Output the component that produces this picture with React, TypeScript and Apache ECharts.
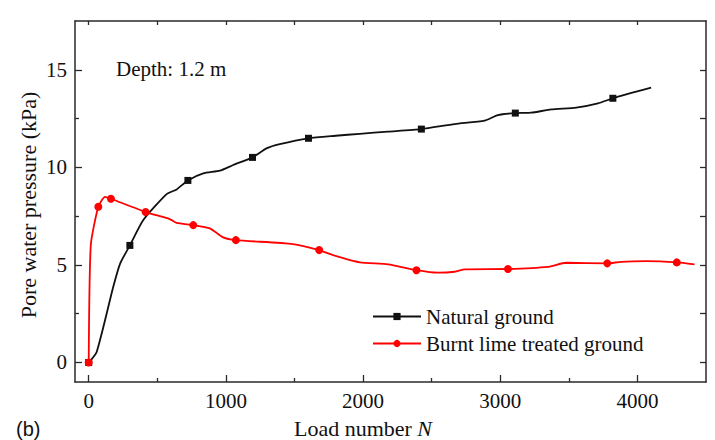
import React, { useEffect, useRef } from "react";
import * as echarts from "echarts";

// Natural ground
const naturalN = [0, 58, 179, 229, 300, 398, 568, 641, 723, 835, 956, 1053, 1194, 1296, 1393, 1602, 1800, 1976, 2182, 2425, 2668, 2886, 2983, 3110, 3226, 3372, 3554, 3712, 3821, 4100];
const naturalP = [0, 0.54, 3.88, 5.07, 6.0, 7.3, 8.63, 8.87, 9.33, 9.69, 9.83, 10.12, 10.51, 10.97, 11.19, 11.49, 11.62, 11.72, 11.83, 11.96, 12.22, 12.39, 12.68, 12.78, 12.8, 12.97, 13.06, 13.28, 13.54, 14.08];
const naturalMarked = [0, 300, 723, 1194, 1602, 2425, 3110, 3821];

// Burnt lime treated ground
const limeN = [0, 15, 70, 119, 162, 415, 590, 640, 762, 883, 980, 1073, 1490, 1680, 1782, 1976, 2182, 2389, 2546, 2668, 2741, 3056, 3347, 3481, 3780, 3882, 4064, 4287, 4416];
const limeP = [0, 6.0, 7.98, 8.49, 8.39, 7.71, 7.35, 7.15, 7.04, 6.87, 6.41, 6.27, 6.07, 5.76, 5.5, 5.13, 5.03, 4.73, 4.6, 4.65, 4.77, 4.79, 4.9, 5.11, 5.08, 5.16, 5.19, 5.13, 5.03];
const limeMarked = [0, 70, 162, 415, 762, 1073, 1680, 2389, 3056, 3780, 4287];

const xMajor = [0, 1000, 2000, 3000, 4000];
const xMinor = [500, 1500, 2500, 3500];
const xTop = [0, 500, 1000, 1500, 2000, 2500, 3000, 3500, 4000];
const yMajor = [0, 5, 10, 15];
const yMinor = [2.5, 7.5, 12.5];
const yRight = [0, 2.5, 5, 7.5, 10, 12.5, 15];

const SERIF = "'Liberation Serif', 'Times New Roman', serif";
const AXIS_COLOR = "#2a2a2a";

function build(ns: number[], ps: number[], marked: number[]) {
  return ns.map((n, i) =>
    marked.includes(n) ? { value: [n, ps[i]] } : { value: [n, ps[i]], symbol: "none" }
  );
}

export default function App() {
  const ref = useRef<HTMLDivElement>(null);
  useEffect(() => {
    if (!ref.current) return;
    const chart = echarts.init(ref.current, undefined, { renderer: "svg" });
    const grid = { left: 75, right: 9, top: 21, bottom: 58 };
    const xBase = { type: "value", min: -100, max: 4500, splitLine: { show: false } };
    const yBase = { type: "value", min: -1, max: 17.5, splitLine: { show: false } };
    const lineOn = { show: true, onZero: false, lineStyle: { color: AXIS_COLOR, width: 1.5 } };
    const lineOff = { show: false, onZero: false };
    const tick = (len: number, vals: number[]) => ({
      show: true,
      inside: true,
      length: len,
      customValues: vals,
      lineStyle: { color: AXIS_COLOR, width: 1.3 },
    });
    const label = (vals: number[]) => ({
      show: true,
      customValues: vals,
      fontFamily: SERIF,
      fontSize: 21,
      color: "#111",
      margin: 8,
      formatter: (v: number) => String(v),
    });
    chart.setOption({
      animation: false,
      backgroundColor: "#ffffff",
      grid: [grid, grid],
      xAxis: [
        { ...xBase, gridIndex: 0, position: "bottom", axisLine: lineOn, axisTick: tick(7, xMajor), axisLabel: label(xMajor) },
        { ...xBase, gridIndex: 0, position: "top", axisLine: lineOn, axisTick: tick(4, xTop), axisLabel: { show: false } },
        { ...xBase, gridIndex: 1, position: "bottom", axisLine: lineOff, axisTick: tick(4, xMinor), axisLabel: { show: false } },
      ],
      yAxis: [
        { ...yBase, gridIndex: 0, position: "left", axisLine: lineOn, axisTick: tick(7, yMajor), axisLabel: label(yMajor) },
        { ...yBase, gridIndex: 0, position: "right", axisLine: lineOn, axisTick: tick(6, yRight), axisLabel: { show: false } },
        { ...yBase, gridIndex: 1, position: "left", axisLine: lineOff, axisTick: tick(4, yMinor), axisLabel: { show: false } },
      ],
      legend: {
        orient: "vertical",
        left: 367,
        top: 301,
        itemWidth: 48,
        itemHeight: 9,
        itemGap: 6,
        textStyle: { fontFamily: SERIF, fontSize: 21, color: "#111" },
        data: ["Natural ground", "Burnt lime treated ground"],
      },
      series: [
        {
          name: "Natural ground",
          type: "line",
          xAxisIndex: 0,
          yAxisIndex: 0,
          data: build(naturalN, naturalP, naturalMarked),
          symbol: "rect",
          symbolSize: 7,
          showAllSymbol: true,
          smooth: 0.2,
          lineStyle: { color: "#111", width: 1.8 },
          itemStyle: { color: "#111" },
          z: 2,
        },
        {
          name: "Burnt lime treated ground",
          type: "line",
          xAxisIndex: 0,
          yAxisIndex: 0,
          data: build(limeN, limeP, limeMarked),
          symbol: "circle",
          symbolSize: 8,
          showAllSymbol: true,
          smooth: 0.2,
          lineStyle: { color: "#ff0000", width: 1.8 },
          itemStyle: { color: "#ff0000" },
          z: 3,
        },
      ],
      graphic: [
        {
          type: "text",
          left: 116,
          top: 58,
          style: { text: "Depth: 1.2 m", font: `21px ${SERIF}`, fill: "#111" },
        },
        {
          type: "text",
          x: 28,
          y: 205,
          rotation: Math.PI / 2,
          style: {
            text: "Pore water pressure (kPa)",
            font: `22px ${SERIF}`,
            fill: "#111",
            align: "center",
            verticalAlign: "middle",
          },
        },
        {
          type: "text",
          x: 363,
          y: 428,
          style: {
            text: "{a|Load number }{b|N}",
            align: "center",
            verticalAlign: "middle",
            rich: {
              a: { font: `22px ${SERIF}`, fill: "#111" },
              b: { font: `italic 22px ${SERIF}`, fill: "#111" },
            },
          },
        },
        {
          type: "text",
          x: 16,
          y: 429,
          style: {
            text: "(b)",
            font: `20px 'Liberation Sans', Arial, sans-serif`,
            fill: "#111",
            verticalAlign: "middle",
          },
        },
      ],
    });
    return () => chart.dispose();
  }, []);
  return <div ref={ref} style={{ width: 715, height: 440, position: "fixed", left: 0, top: 0 }} />;
}
